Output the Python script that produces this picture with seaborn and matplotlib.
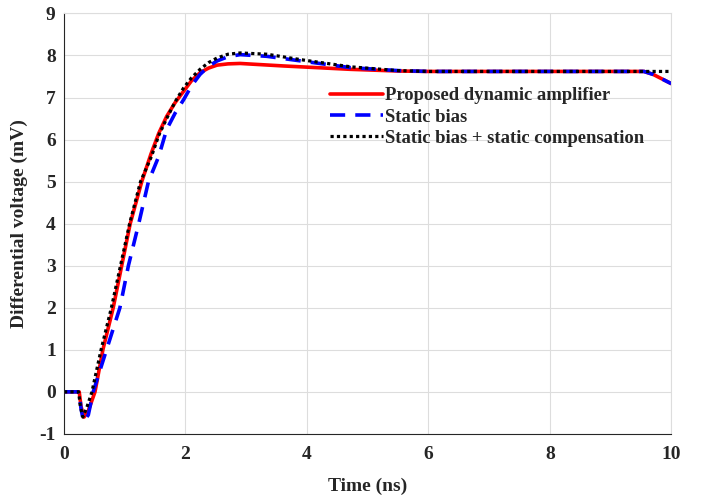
import numpy as np
import pandas as pd
import matplotlib
matplotlib.use('Agg')
import matplotlib.pyplot as plt
import seaborn as sns

# Time (ns) and differential voltage (mV)
x_prop = [0, 0.25, 0.28, 0.33, 0.40, 0.51, 0.64, 0.81, 0.95, 1.09, 1.28, 1.43, 1.56,
          1.69, 1.83, 1.97, 2.10, 2.24, 2.38, 2.52, 2.70, 2.90, 3.62, 4.72, 5.5, 6, 8,
          9.55, 9.7, 10]
y_prop = [0, 0, -0.35, -0.6, -0.45, 0, 1, 2, 3, 4, 5, 5.65, 6.15,
          6.55, 6.88, 7.15, 7.4, 7.59, 7.7, 7.77, 7.8, 7.81, 7.75, 7.67, 7.63, 7.62, 7.62,
          7.62, 7.55, 7.33]

x_static = [0, 0.25, 0.28, 0.32, 0.40, 0.48, 0.70, 0.92, 1.06, 1.23, 1.39, 1.56,
            1.69, 1.83, 1.97, 2.10, 2.24, 2.38, 2.52, 2.70, 2.90, 3.34, 3.90, 4.72, 5.5,
            6, 8, 9.55, 9.7, 10]
y_static = [0, 0, -0.4, -0.7, -0.55, 0, 1, 2, 3, 4, 5, 5.6,
            6.24, 6.63, 6.95, 7.28, 7.55, 7.74, 7.87, 7.97, 8.02, 7.98, 7.87, 7.71, 7.64,
            7.62, 7.62, 7.62, 7.55, 7.33]

x_comp = [0, 0.24, 0.27, 0.31, 0.38, 0.46, 0.61, 0.78, 0.93, 1.08, 1.26, 1.44, 1.56,
          1.69, 1.83, 1.97, 2.10, 2.24, 2.38, 2.52, 2.70, 2.90, 3.34, 3.90, 4.72, 5.5, 6,
          8, 10]
y_comp = [0, 0, -0.35, -0.6, -0.35, 0, 1, 2, 3, 4, 5, 5.6, 6.1,
          6.5, 6.9, 7.23, 7.47, 7.67, 7.83, 7.94, 8.03, 8.06, 8.03, 7.9, 7.73, 7.64, 7.62,
          7.62, 7.62]

labels = ['Proposed dynamic amplifier', 'Static bias', 'Static bias + static compensation']

sns.set_style('white')
plt.rcParams['font.family'] = ['Liberation Serif', 'DejaVu Serif']
plt.rcParams['font.weight'] = 'bold'
plt.rcParams['axes.unicode_minus'] = False

fig = plt.figure(figsize=(7.09, 4.97), dpi=100)
ax = fig.add_axes([0.0903, 0.127, 0.8565, 0.846])

sns.lineplot(x=x_prop, y=y_prop, ax=ax, color='#ff0000', lw=2.6, sort=False,
             label=labels[0])
sns.lineplot(x=x_static, y=y_static, ax=ax, color='#0000ff', lw=2.6, sort=False,
             label=labels[1], linestyle=(0, (4.2, 2.8)))
sns.lineplot(x=x_comp, y=y_comp, ax=ax, color='black', lw=2.3, sort=False,
             label=labels[2], linestyle=(0, (1, 1)))

ax.set_xlim(0, 10)
ax.set_ylim(-1, 9)
ax.set_xticks(np.arange(0, 11, 2))
ax.set_yticks(np.arange(-1, 10, 1))
ax.grid(True, color='#dddddd', lw=0.8)
ax.tick_params(direction='in', length=4, labelsize=14, width=0.8, color='#262626',
               labelcolor='#262626')
ax.tick_params(axis='x', pad=9)
ax.tick_params(axis='y', pad=6)
for lab in ax.get_xticklabels() + ax.get_yticklabels():
    lab.set_fontweight('bold')
for side in ['left', 'bottom']:
    ax.spines[side].set_color('#262626')
    ax.spines[side].set_linewidth(0.8)
for side in ['top', 'right']:
    ax.spines[side].set_color('#dddddd')
    ax.spines[side].set_linewidth(0.8)

ax.set_xlabel('Time (ns)', fontsize=14, fontweight='bold', labelpad=10, color='#262626')
ax.set_ylabel('Differential voltage (mV)', fontsize=14, fontweight='bold', labelpad=8,
              color='#262626')

ax.legend(loc='upper left', bbox_to_anchor=(0.438, 0.824), frameon=False,
          prop={'size': 13.4, 'weight': 'bold'}, handlelength=2.85,
          handletextpad=0.12, labelspacing=0.22, borderpad=0, borderaxespad=0)

fig.savefig('out.png', dpi=100)
